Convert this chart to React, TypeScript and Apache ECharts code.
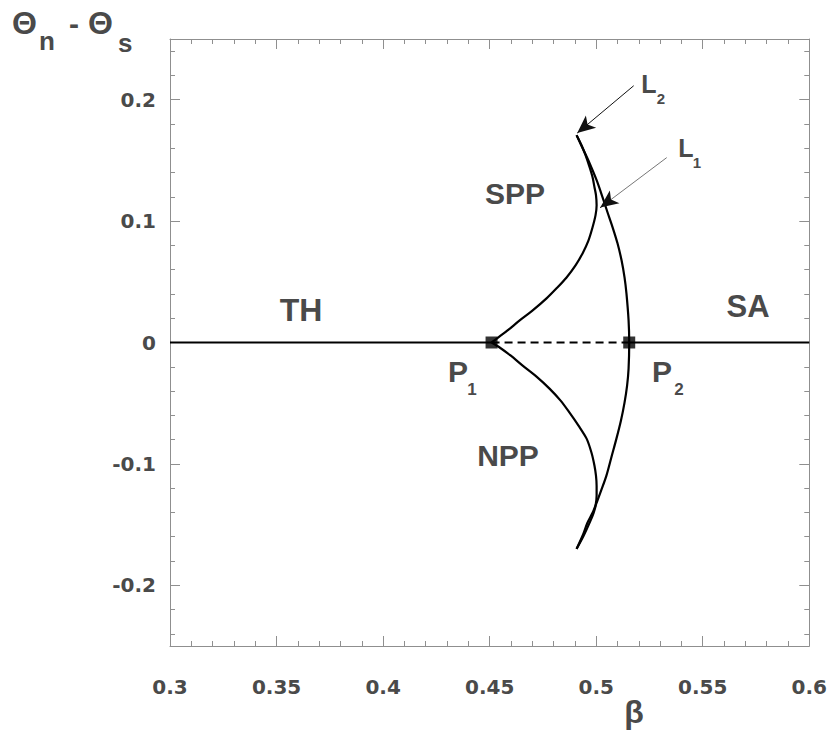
import React, { useEffect, useRef } from "react";
import * as echarts from "echarts";

// ---- axis ticks ----
const xTicks = [0.3, 0.35, 0.4, 0.45, 0.5, 0.55, 0.6];
const xMinorTicks = [
  0.31, 0.32, 0.33, 0.34, 0.36, 0.37, 0.38, 0.39, 0.41, 0.42, 0.43, 0.44,
  0.46, 0.47, 0.48, 0.49, 0.51, 0.52, 0.53, 0.54, 0.56, 0.57, 0.58, 0.59,
];
const yTicks = [-0.2, -0.1, 0, 0.1, 0.2];
const yMinorTicks = [
  -0.24, -0.22, -0.18, -0.16, -0.14, -0.12, -0.08, -0.06, -0.04, -0.02,
  0.02, 0.04, 0.06, 0.08, 0.12, 0.14, 0.16, 0.18, 0.22, 0.24,
];

// ---- special points ----
const P1 = [0.4509, 0];
const P2 = [0.5155, 0];

// ---- curves ----
const thLine = [[0.3, 0], [0.4509, 0]];
const unstableLine = [[0.4509, 0], [0.5155, 0]];
const saLine = [[0.5155, 0], [0.6, 0]];

const sppInner = [
  [0.4509, 0], [0.4547, 0.005], [0.4584, 0.0099], [0.4641, 0.0182],
  [0.4702, 0.0264], [0.4767, 0.0363], [0.4814, 0.0446], [0.4861, 0.0536],
  [0.4903, 0.0635], [0.4936, 0.0734], [0.4964, 0.0842], [0.4983, 0.0949],
  [0.4997, 0.1049], [0.5002, 0.113], [0.4999, 0.1213], [0.4992, 0.1279],
  [0.4983, 0.1361], [0.4969, 0.1444], [0.495, 0.1543], [0.4931, 0.1625],
  [0.4908, 0.1708],
];
const outerCurve = [
  [0.4908, 0.1708], [0.4941, 0.1584], [0.4969, 0.1477], [0.5002, 0.1337],
  [0.503, 0.1196], [0.5053, 0.1073], [0.5077, 0.0949], [0.51, 0.0817],
  [0.5119, 0.0677], [0.5133, 0.0536], [0.5142, 0.0404], [0.5152, 0.0182],
  [0.5155, 0], [0.5152, -0.0215], [0.5145, -0.0355], [0.5133, -0.0495],
  [0.5116, -0.0644], [0.5095, -0.0792], [0.5072, -0.0941], [0.5048, -0.1097],
  [0.5023, -0.1221], [0.5002, -0.132], [0.4983, -0.1403], [0.4959, -0.1485],
  [0.4936, -0.1592], [0.4908, -0.17],
];
const nppInner = [
  [0.4509, 0], [0.4547, -0.0041], [0.4598, -0.0107], [0.4655, -0.019],
  [0.472, -0.0281], [0.4781, -0.038], [0.4833, -0.0479], [0.4875, -0.0578],
  [0.4917, -0.0685], [0.4955, -0.0792], [0.4978, -0.0908], [0.4992, -0.1015],
  [0.4999, -0.1097], [0.5002, -0.118], [0.5002, -0.1262], [0.4997, -0.1345],
  [0.4988, -0.1403], [0.4973, -0.1469], [0.4941, -0.1592], [0.4908, -0.17],
];

// ---- annotation arrows (start, tip) ----
const arrowL2 = [[0.5176, 0.2115], [0.4911, 0.1725]];
const arrowL1 = [[0.5331, 0.1523], [0.5019, 0.1111]];
const arrowL1Head = [[0.5066, 0.1173], [0.5019, 0.1111]];

const FONT = '"Liberation Sans", Arial, Helvetica, sans-serif';
const TICKFONT = '"DejaVu Sans", "Liberation Sans", sans-serif';
const TXT = "#4a4a4a";
const AX = "#8f8f8f";

function txt(text: string, x: number, y: number, size: number, align = "center") {
  return {
    type: "text",
    x,
    y,
    silent: true,
    style: {
      text,
      fill: TXT,
      font: `bold ${size}px ${FONT}`,
      align,
      verticalAlign: "middle",
    },
  };
}

export default function App() {
  const ref = useRef<HTMLDivElement>(null);
  useEffect(() => {
    document.body.style.margin = "0";
    const chart = echarts.init(ref.current!, null, { renderer: "svg" });

    const axisCommon = (min: number, max: number) => ({
      type: "value",
      min,
      max,
      splitLine: { show: false },
    });
    const labelStyle = {
      color: TXT,
      fontWeight: "bold",
      fontSize: 20,
      fontFamily: TICKFONT,
      formatter: (v: number) => String(+v.toFixed(2)),
    };
    const majorX = (position: string, labels: boolean) => ({
      ...axisCommon(0.3, 0.6),
      position,
      axisLine: { show: true, onZero: false, lineStyle: { color: AX, width: 1 } },
      axisTick: { show: true, inside: true, length: 10, customValues: xTicks, lineStyle: { color: AX } },
      axisLabel: labels
        ? { show: true, customValues: xTicks, margin: 31, ...labelStyle }
        : { show: false },
    });
    const minorX = (position: string) => ({
      ...axisCommon(0.3, 0.6),
      position,
      axisLine: { show: false, onZero: false },
      axisTick: { show: true, inside: true, length: 5, customValues: xMinorTicks, lineStyle: { color: AX } },
      axisLabel: { show: false },
    });
    const majorY = (position: string, labels: boolean) => ({
      ...axisCommon(-0.25, 0.25),
      position,
      axisLine: { show: true, onZero: false, lineStyle: { color: AX, width: 1 } },
      axisTick: { show: true, inside: true, length: 10, customValues: yTicks, lineStyle: { color: AX } },
      axisLabel: labels
        ? { show: true, customValues: yTicks, margin: 14, ...labelStyle }
        : { show: false },
    });
    const minorY = (position: string) => ({
      ...axisCommon(-0.25, 0.25),
      position,
      axisLine: { show: false, onZero: false },
      axisTick: { show: true, inside: true, length: 5, customValues: yMinorTicks, lineStyle: { color: AX } },
      axisLabel: { show: false },
    });

    const curve = (name: string, data: number[][], extra: any = {}) => ({
      name,
      type: "line",
      data,
      xAxisIndex: 0,
      yAxisIndex: 0,
      showSymbol: false,
      symbol: "none",
      smooth: 0.3,
      lineStyle: { color: "#000", width: 2.2 },
      z: 3,
      ...extra,
    });

    const arrow = (a: number[][], color: string, withHead: boolean) => [
      { coord: a[0], symbol: "none", lineStyle: { color, width: 1, type: "solid" } },
      { coord: a[1], symbol: withHead ? "arrow" : "none", symbolSize: [12, 18] },
    ];

    chart.setOption({
      animation: false,
      backgroundColor: "#fff",
      grid: { left: 170, right: 20, top: 39, bottom: 85, containLabel: false },
      xAxis: [majorX("bottom", true), minorX("bottom"), majorX("top", false), minorX("top")],
      yAxis: [majorY("left", true), minorY("left"), majorY("right", false), minorY("right")],
      series: [
        curve("TH", thLine, { smooth: false }),
        curve("unstable", unstableLine, { smooth: false, lineStyle: { color: "#000", width: 2, type: [8, 5] } }),
        curve("SA", saLine, { smooth: false }),
        curve("SPP boundary", sppInner),
        curve("L", outerCurve, {
          markLine: {
            silent: true,
            animation: false,
            label: { show: false },
            symbol: ["none", "arrow"],
            data: [
              arrow(arrowL2, "#111", true),
              arrow(arrowL1, "#777", false),
              arrow(arrowL1Head, "#111", true),
            ],
          },
        }),
        curve("NPP boundary", nppInner),
        {
          name: "P",
          type: "scatter",
          data: [P1, P2],
          symbol: "rect",
          symbolSize: 12,
          itemStyle: { color: "#000" },
          z: 5,
        },
      ],
      graphic: [
        txt("Θ", 12, 23, 32, "left"),
        txt("n", 39, 41, 26, "left"),
        txt("-", 69, 23, 30, "left"),
        txt("Θ", 88, 23, 32, "left"),
        txt("s", 118, 43, 26, "left"),
        txt("β", 634, 712, 32),
        txt("TH", 301, 310, 32),
        txt("SPP", 515, 193, 30),
        txt("NPP", 508, 455, 30),
        txt("SA", 748, 306, 31),
        txt("P", 458, 371, 30),
        txt("1", 472, 389, 17),
        txt("P", 662, 371, 30),
        txt("2", 679, 389, 17),
        txt("L", 649, 84, 25),
        txt("2", 661, 98, 15),
        txt("L", 686, 148, 25),
        txt("1", 697, 162, 15),
      ],
    });
    return () => chart.dispose();
  }, []);
  return <div ref={ref} style={{ width: 830, height: 731 }} />;
}
